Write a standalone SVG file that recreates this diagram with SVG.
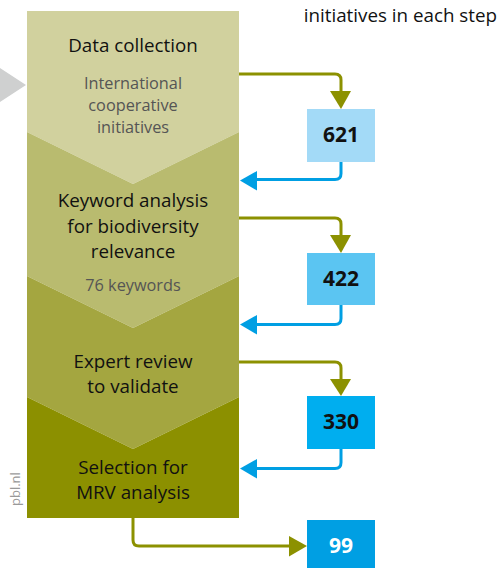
<svg xmlns="http://www.w3.org/2000/svg" width="501" height="568" viewBox="0 0 501 568">
<defs>
<style>
.t{font-family:"Open Sans","Noto Sans",sans-serif;font-size:18.8px;fill:#111;text-anchor:middle}
.s{font-family:"Open Sans","Noto Sans",sans-serif;font-size:16.3px;fill:#555;text-anchor:middle}
.n{font-family:"Open Sans","Noto Sans",sans-serif;font-size:21px;font-weight:bold;fill:#111;text-anchor:middle}
.fw{fill:none;stroke:#8c9100;stroke-width:3}
.bk{fill:none;stroke:#009fe3;stroke-width:3}
</style>
</defs>
<text x="497" y="22" style="font-family:'Open Sans','Noto Sans',sans-serif;font-size:18.8px;fill:#111;text-anchor:end">initiatives in each step</text>
<polygon points="0,68 26,85 0,102" fill="#cfd0d0"/>
<g id="step1">
<polygon points="27,11 239,11 239,132 133,184 27,132" fill="#d1d19e"/>
<text class="t" x="133" y="52">Data collection</text>
<text class="s" x="133" y="89">International</text>
<text class="s" x="133" y="111">cooperative</text>
<text class="s" x="133" y="133">initiatives</text>
</g>
<g id="step2">
<path d="M27,132 L133,184 L239,132 L239,276 L133,328 L27,276 Z" fill="#b9bb6f"/>
<text class="t" x="133" y="207">Keyword analysis</text>
<text class="t" x="133" y="233">for biodiversity</text>
<text class="t" x="133" y="258">relevance</text>
<text class="s" x="133" y="291">76 keywords</text>
</g>
<g id="step3">
<path d="M27,276 L133,328 L239,276 L239,397 L133,449 L27,397 Z" fill="#a4a640"/>
<text class="t" x="133" y="368">Expert review</text>
<text class="t" x="133" y="393">to validate</text>
</g>
<g id="step4">
<path d="M27,397 L133,449 L239,397 L239,518 L27,518 Z" fill="#8c9000"/>
<text class="t" x="133" y="474">Selection for</text>
<text class="t" x="133" y="499">MRV analysis</text>
</g>
<g id="n621"><rect x="307" y="109" width="68" height="53" fill="#a3daf7"/><text class="n" x="341" y="142">621</text></g>
<g id="n422"><rect x="307" y="253" width="68" height="52" fill="#5bc5f2"/><text class="n" x="341" y="286">422</text></g>
<g id="n330"><rect x="307" y="396" width="68" height="53" fill="#00aeef"/><text class="n" x="341" y="429">330</text></g>
<g id="n99"><rect x="307" y="520" width="68" height="48" fill="#009fe3"/><text class="n" x="341" y="553" style="fill:#fff">99</text></g>
<g id="connectors">
<path class="fw" d="M239,74 H335 Q341,74 341,80 V92"/>
<polygon points="330,91 351,91 341,109" fill="#8c9100"/>
<path class="bk" d="M341,162 V173.5 Q341,179.5 335,179.5 H255"/>
<polygon points="240,180.5 257,171 257,190.5" fill="#009fe3"/>
<path class="fw" d="M239,218 H335 Q341,218 341,224 V236"/>
<polygon points="330,235 351,235 341,253" fill="#8c9100"/>
<path class="bk" d="M341,305 V318.5 Q341,324.5 335,324.5 H255"/>
<polygon points="240,324.5 257,315 257,334.5" fill="#009fe3"/>
<path class="fw" d="M239,362 H335 Q341,362 341,368 V380"/>
<polygon points="330,379 351,379 341,396" fill="#8c9100"/>
<path class="bk" d="M341,449 V462.5 Q341,468.5 335,468.5 H255"/>
<polygon points="240,468.5 257,459 257,478.5" fill="#009fe3"/>
<path class="fw" d="M133,518 V540 Q133,546 139,546 H291"/>
<polygon points="289,536 307,546 289,556.5" fill="#8c9100"/>
</g>
<text x="20" y="506" transform="rotate(-90 20 506)" style="font-family:'Open Sans','Noto Sans',sans-serif;font-size:13px;fill:#999">pbl.nl</text>
</svg>
